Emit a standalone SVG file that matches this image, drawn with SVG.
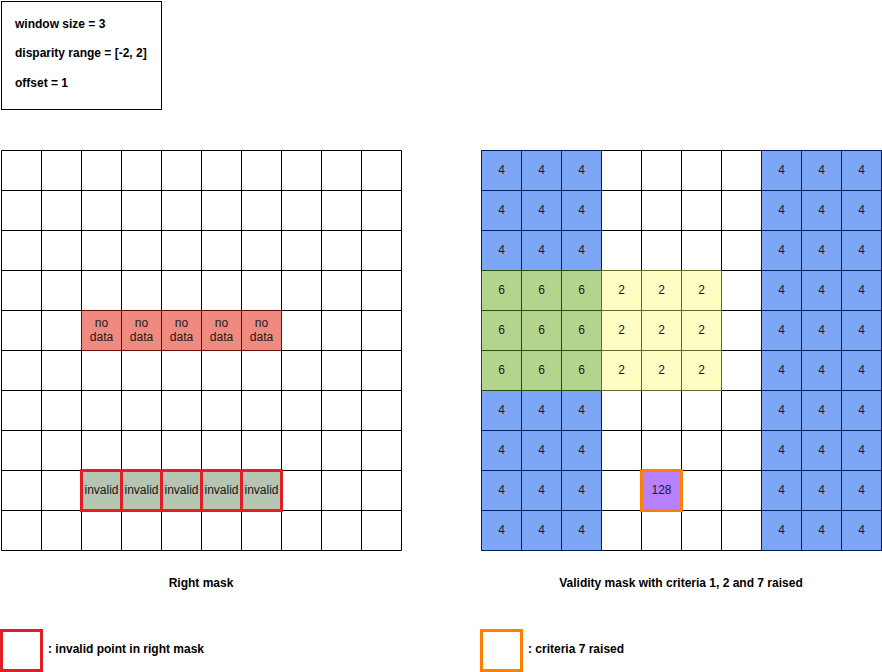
<svg xmlns="http://www.w3.org/2000/svg" width="882" height="672" viewBox="0 0 882 672">
<style>
text{font-family:"Liberation Sans",Arial,Helvetica,sans-serif;font-size:12px;fill:#000}
.b{font-weight:bold}
.c{text-anchor:middle;fill:#1a1a1a}
.w{fill:#fff;stroke:#000;stroke-width:1}
.blue{fill:#7ea6f7;stroke:#001d5c;stroke-width:1}
.green{fill:#b3d48c;stroke:#2b4a12;stroke-width:1}
.yellow{fill:#ffffc4;stroke:#66662e;stroke-width:1}
.nod{fill:#f08a80;stroke:#6a0a0a;stroke-width:1}
.inv{fill:#b5c5b2;stroke:#e31c26;stroke-width:3}
.pur{fill:#b881ff;stroke:#ff8000;stroke-width:3}
</style>
<defs>
<rect id="cell" width="40" height="40"/>
</defs>
<rect width="882" height="672" fill="#fff"/>

<g id="params">
<rect x="1.5" y="1.5" width="160" height="108" fill="#fff" stroke="#000"/>
<text class="b" x="15" y="28">window size = 3</text>
<text class="b" x="15" y="57">disparity range = [-2, 2]</text>
<text class="b" x="15" y="87">offset = 1</text>
</g>

<g id="right-mask">
<g id="right-mask-grid">
<path d="M1.5 150.5H401.5M1.5 190.5H401.5M1.5 230.5H401.5M1.5 270.5H401.5M1.5 310.5H401.5M1.5 350.5H401.5M1.5 390.5H401.5M1.5 430.5H401.5M1.5 470.5H401.5M1.5 510.5H401.5M1.5 550.5H401.5M1.5 150.5V550.5M41.5 150.5V550.5M81.5 150.5V550.5M121.5 150.5V550.5M161.5 150.5V550.5M201.5 150.5V550.5M241.5 150.5V550.5M281.5 150.5V550.5M321.5 150.5V550.5M361.5 150.5V550.5M401.5 150.5V550.5" fill="none" stroke="#000"/>
</g>
<g id="no-data">
<rect class="nod" x="81.5" y="310.5" width="40" height="40"/>
<rect class="nod" x="121.5" y="310.5" width="40" height="40"/>
<rect class="nod" x="161.5" y="310.5" width="40" height="40"/>
<rect class="nod" x="201.5" y="310.5" width="40" height="40"/>
<rect class="nod" x="241.5" y="310.5" width="40" height="40"/>
<text class="c"><tspan x="101.5" y="327">no</tspan><tspan x="101.5" y="341">data</tspan></text>
<text class="c"><tspan x="141.5" y="327">no</tspan><tspan x="141.5" y="341">data</tspan></text>
<text class="c"><tspan x="181.5" y="327">no</tspan><tspan x="181.5" y="341">data</tspan></text>
<text class="c"><tspan x="221.5" y="327">no</tspan><tspan x="221.5" y="341">data</tspan></text>
<text class="c"><tspan x="261.5" y="327">no</tspan><tspan x="261.5" y="341">data</tspan></text>
</g>
<g id="invalid">
<rect class="inv" x="81.5" y="470.5" width="40" height="40"/>
<rect class="inv" x="121.5" y="470.5" width="40" height="40"/>
<rect class="inv" x="161.5" y="470.5" width="40" height="40"/>
<rect class="inv" x="201.5" y="470.5" width="40" height="40"/>
<rect class="inv" x="241.5" y="470.5" width="40" height="40"/>
<text class="c" x="101.5" y="494">invalid</text>
<text class="c" x="141.5" y="494">invalid</text>
<text class="c" x="181.5" y="494">invalid</text>
<text class="c" x="221.5" y="494">invalid</text>
<text class="c" x="261.5" y="494">invalid</text>
</g>
<text id="right-mask-label" class="b" x="201" y="587" text-anchor="middle">Right mask</text>
</g>

<g id="validity-mask">
<g id="validity-grid">
<path d="M481.5 150.5H881.5M481.5 190.5H881.5M481.5 230.5H881.5M481.5 270.5H881.5M481.5 310.5H881.5M481.5 350.5H881.5M481.5 390.5H881.5M481.5 430.5H881.5M481.5 470.5H881.5M481.5 510.5H881.5M481.5 550.5H881.5M481.5 150.5V550.5M521.5 150.5V550.5M561.5 150.5V550.5M601.5 150.5V550.5M641.5 150.5V550.5M681.5 150.5V550.5M721.5 150.5V550.5M761.5 150.5V550.5M801.5 150.5V550.5M841.5 150.5V550.5M881.5 150.5V550.5" fill="none" stroke="#000"/>
</g>
<g id="criteria-1-left">
<rect class="blue" x="481.5" y="150.5" width="40" height="40"/><rect class="blue" x="521.5" y="150.5" width="40" height="40"/><rect class="blue" x="561.5" y="150.5" width="40" height="40"/>
<rect class="blue" x="481.5" y="190.5" width="40" height="40"/><rect class="blue" x="521.5" y="190.5" width="40" height="40"/><rect class="blue" x="561.5" y="190.5" width="40" height="40"/>
<rect class="blue" x="481.5" y="230.5" width="40" height="40"/><rect class="blue" x="521.5" y="230.5" width="40" height="40"/><rect class="blue" x="561.5" y="230.5" width="40" height="40"/>
<rect class="blue" x="481.5" y="390.5" width="40" height="40"/><rect class="blue" x="521.5" y="390.5" width="40" height="40"/><rect class="blue" x="561.5" y="390.5" width="40" height="40"/>
<rect class="blue" x="481.5" y="430.5" width="40" height="40"/><rect class="blue" x="521.5" y="430.5" width="40" height="40"/><rect class="blue" x="561.5" y="430.5" width="40" height="40"/>
<rect class="blue" x="481.5" y="470.5" width="40" height="40"/><rect class="blue" x="521.5" y="470.5" width="40" height="40"/><rect class="blue" x="561.5" y="470.5" width="40" height="40"/>
<rect class="blue" x="481.5" y="510.5" width="40" height="40"/><rect class="blue" x="521.5" y="510.5" width="40" height="40"/><rect class="blue" x="561.5" y="510.5" width="40" height="40"/>
</g>
<g id="criteria-1-right">
<rect class="blue" x="761.5" y="150.5" width="40" height="40"/><rect class="blue" x="801.5" y="150.5" width="40" height="40"/><rect class="blue" x="841.5" y="150.5" width="40" height="40"/>
<rect class="blue" x="761.5" y="190.5" width="40" height="40"/><rect class="blue" x="801.5" y="190.5" width="40" height="40"/><rect class="blue" x="841.5" y="190.5" width="40" height="40"/>
<rect class="blue" x="761.5" y="230.5" width="40" height="40"/><rect class="blue" x="801.5" y="230.5" width="40" height="40"/><rect class="blue" x="841.5" y="230.5" width="40" height="40"/>
<rect class="blue" x="761.5" y="270.5" width="40" height="40"/><rect class="blue" x="801.5" y="270.5" width="40" height="40"/><rect class="blue" x="841.5" y="270.5" width="40" height="40"/>
<rect class="blue" x="761.5" y="310.5" width="40" height="40"/><rect class="blue" x="801.5" y="310.5" width="40" height="40"/><rect class="blue" x="841.5" y="310.5" width="40" height="40"/>
<rect class="blue" x="761.5" y="350.5" width="40" height="40"/><rect class="blue" x="801.5" y="350.5" width="40" height="40"/><rect class="blue" x="841.5" y="350.5" width="40" height="40"/>
<rect class="blue" x="761.5" y="390.5" width="40" height="40"/><rect class="blue" x="801.5" y="390.5" width="40" height="40"/><rect class="blue" x="841.5" y="390.5" width="40" height="40"/>
<rect class="blue" x="761.5" y="430.5" width="40" height="40"/><rect class="blue" x="801.5" y="430.5" width="40" height="40"/><rect class="blue" x="841.5" y="430.5" width="40" height="40"/>
<rect class="blue" x="761.5" y="470.5" width="40" height="40"/><rect class="blue" x="801.5" y="470.5" width="40" height="40"/><rect class="blue" x="841.5" y="470.5" width="40" height="40"/>
<rect class="blue" x="761.5" y="510.5" width="40" height="40"/><rect class="blue" x="801.5" y="510.5" width="40" height="40"/><rect class="blue" x="841.5" y="510.5" width="40" height="40"/>
</g>
<g id="criteria-6">
<rect class="green" x="481.5" y="270.5" width="40" height="40"/><rect class="green" x="521.5" y="270.5" width="40" height="40"/><rect class="green" x="561.5" y="270.5" width="40" height="40"/>
<rect class="green" x="481.5" y="310.5" width="40" height="40"/><rect class="green" x="521.5" y="310.5" width="40" height="40"/><rect class="green" x="561.5" y="310.5" width="40" height="40"/>
<rect class="green" x="481.5" y="350.5" width="40" height="40"/><rect class="green" x="521.5" y="350.5" width="40" height="40"/><rect class="green" x="561.5" y="350.5" width="40" height="40"/>
</g>
<g id="criteria-2">
<rect class="yellow" x="601.5" y="270.5" width="40" height="40"/><rect class="yellow" x="641.5" y="270.5" width="40" height="40"/><rect class="yellow" x="681.5" y="270.5" width="40" height="40"/>
<rect class="yellow" x="601.5" y="310.5" width="40" height="40"/><rect class="yellow" x="641.5" y="310.5" width="40" height="40"/><rect class="yellow" x="681.5" y="310.5" width="40" height="40"/>
<rect class="yellow" x="601.5" y="350.5" width="40" height="40"/><rect class="yellow" x="641.5" y="350.5" width="40" height="40"/><rect class="yellow" x="681.5" y="350.5" width="40" height="40"/>
</g>
<g id="criteria-7">
<rect class="pur" x="641.5" y="470.5" width="40" height="40"/>
</g>
<g id="validity-values">
<text class="c" x="501.5" y="174">4</text><text class="c" x="541.5" y="174">4</text><text class="c" x="581.5" y="174">4</text><text class="c" x="781.5" y="174">4</text><text class="c" x="821.5" y="174">4</text><text class="c" x="861.5" y="174">4</text>
<text class="c" x="501.5" y="214">4</text><text class="c" x="541.5" y="214">4</text><text class="c" x="581.5" y="214">4</text><text class="c" x="781.5" y="214">4</text><text class="c" x="821.5" y="214">4</text><text class="c" x="861.5" y="214">4</text>
<text class="c" x="501.5" y="254">4</text><text class="c" x="541.5" y="254">4</text><text class="c" x="581.5" y="254">4</text><text class="c" x="781.5" y="254">4</text><text class="c" x="821.5" y="254">4</text><text class="c" x="861.5" y="254">4</text>
<text class="c" x="501.5" y="294">6</text><text class="c" x="541.5" y="294">6</text><text class="c" x="581.5" y="294">6</text><text class="c" x="621.5" y="294">2</text><text class="c" x="661.5" y="294">2</text><text class="c" x="701.5" y="294">2</text><text class="c" x="781.5" y="294">4</text><text class="c" x="821.5" y="294">4</text><text class="c" x="861.5" y="294">4</text>
<text class="c" x="501.5" y="334">6</text><text class="c" x="541.5" y="334">6</text><text class="c" x="581.5" y="334">6</text><text class="c" x="621.5" y="334">2</text><text class="c" x="661.5" y="334">2</text><text class="c" x="701.5" y="334">2</text><text class="c" x="781.5" y="334">4</text><text class="c" x="821.5" y="334">4</text><text class="c" x="861.5" y="334">4</text>
<text class="c" x="501.5" y="374">6</text><text class="c" x="541.5" y="374">6</text><text class="c" x="581.5" y="374">6</text><text class="c" x="621.5" y="374">2</text><text class="c" x="661.5" y="374">2</text><text class="c" x="701.5" y="374">2</text><text class="c" x="781.5" y="374">4</text><text class="c" x="821.5" y="374">4</text><text class="c" x="861.5" y="374">4</text>
<text class="c" x="501.5" y="414">4</text><text class="c" x="541.5" y="414">4</text><text class="c" x="581.5" y="414">4</text><text class="c" x="781.5" y="414">4</text><text class="c" x="821.5" y="414">4</text><text class="c" x="861.5" y="414">4</text>
<text class="c" x="501.5" y="454">4</text><text class="c" x="541.5" y="454">4</text><text class="c" x="581.5" y="454">4</text><text class="c" x="781.5" y="454">4</text><text class="c" x="821.5" y="454">4</text><text class="c" x="861.5" y="454">4</text>
<text class="c" x="501.5" y="494">4</text><text class="c" x="541.5" y="494">4</text><text class="c" x="581.5" y="494">4</text><text class="c" x="661.5" y="494">128</text><text class="c" x="781.5" y="494">4</text><text class="c" x="821.5" y="494">4</text><text class="c" x="861.5" y="494">4</text>
<text class="c" x="501.5" y="534">4</text><text class="c" x="541.5" y="534">4</text><text class="c" x="581.5" y="534">4</text><text class="c" x="781.5" y="534">4</text><text class="c" x="821.5" y="534">4</text><text class="c" x="861.5" y="534">4</text>
</g>
<text id="validity-label" class="b" x="681" y="587" text-anchor="middle">Validity mask with criteria 1, 2 and 7 raised</text>
</g>

<g id="legend-invalid">
<rect x="1.5" y="630.5" width="40" height="40" fill="#fff" stroke="#e31c26" stroke-width="3"/>
<text class="b" x="48" y="653">: invalid point in right mask</text>
</g>
<g id="legend-criteria7">
<rect x="481.5" y="630.5" width="40" height="40" fill="#fff" stroke="#ff8000" stroke-width="3"/>
<text class="b" x="528" y="653">: criteria 7 raised</text>
</g>
<g id="connectors"/>
</svg>
